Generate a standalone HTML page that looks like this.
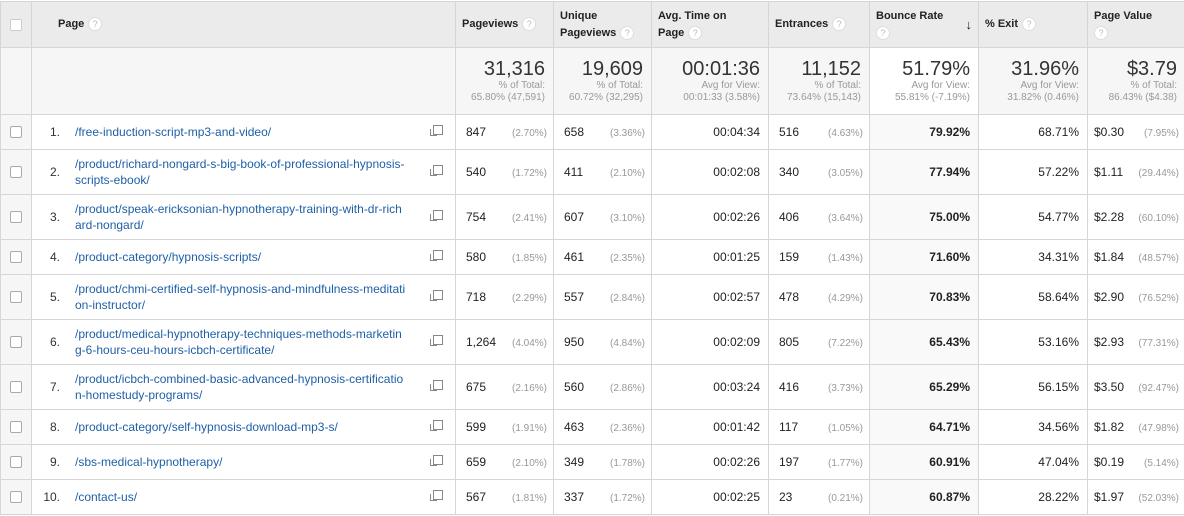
<!DOCTYPE html>
<html><head><meta charset="utf-8">
<style>
body{margin:0;width:1184px;height:516px;overflow:hidden;background:#fff;font-family:"Liberation Sans",Arial,sans-serif;color:#222}
table{border-collapse:collapse;table-layout:fixed;position:absolute;left:0;top:1px;width:1185px}
td,th{border:1px solid #d6d6d6;padding:0;vertical-align:middle}
th{background:#ebebeb;font-size:11px;font-weight:bold;text-align:left;padding:0 6px;height:45px;color:#222;line-height:17px}
.q{display:inline-block;width:12px;height:12px;border-radius:50%;background:#fff;border:1px solid #ddd;color:#bbb;font-size:9px;line-height:12px;text-align:center;font-weight:normal;vertical-align:middle;margin-left:4px}
.sum td{background:#f6f6f6;height:66px;text-align:right;padding-right:8px}
.sum .big{font-size:20px;color:#333;line-height:22px}
.sum .sub{font-size:10px;color:#999;line-height:12px}
.sum td.hl{background:#fff}
.r td{font-size:12px}
.r td.cb{background:#f6f6f6}
.box{display:block;margin:0 auto;width:10px;height:10px;border:1px solid #aaa;border-radius:2px;background:#fff}
.num{display:inline-block;text-align:right;width:28px;margin-right:15px;color:#333}
.link{color:#1f5fa8}
.pc{font-size:10px;color:#999}
.v{display:flex;justify-content:space-between;align-items:baseline;padding:0 6px 0 10px}
.rt{text-align:right;padding-right:8px}
.hl2{background:#f9f9f9;font-weight:bold;text-align:right;padding-right:8px}
.ext{position:absolute;right:12px;top:50%;margin-top:-7px;width:8px;height:8px;border:1px solid #888;background:#fff}
.ext:after{content:"";position:absolute;left:-4px;top:3px;width:6px;height:6px;border:1px solid #888;border-top:none;border-right:none}
.pg{position:relative}
.pgi{display:flex;align-items:center}
.pgt{line-height:16px}
</style></head><body>
<table>
<colgroup><col style="width:31px"><col style="width:424px"><col style="width:98px"><col style="width:98px"><col style="width:117px"><col style="width:101px"><col style="width:109px"><col style="width:109px"><col style="width:98px"></colgroup>
<tr>
<th style="text-align:center"><span class="box" style="border-color:#ccc"></span></th>
<th style="padding-left:26px">Page<span class="q">?</span></th>
<th>Pageviews<span class="q">?</span></th>
<th>Unique<br>Pageviews<span class="q">?</span></th>
<th>Avg. Time on<br>Page<span class="q">?</span></th>
<th>Entrances<span class="q">?</span></th>
<th style="position:relative">Bounce Rate<span style="position:absolute;right:6px;top:14px;font-size:13px">↓</span><br><span class="q" style="margin-left:0">?</span></th>
<th>% Exit<span class="q">?</span></th>
<th>Page Value<br><span class="q" style="margin-left:0">?</span></th>
</tr>
<tr class="sum">
<td></td><td></td>
<td><div class="big">31,316</div><div class="sub">% of Total:<br>65.80% (47,591)</div></td>
<td><div class="big">19,609</div><div class="sub">% of Total:<br>60.72% (32,295)</div></td>
<td><div class="big">00:01:36</div><div class="sub">Avg for View:<br>00:01:33 (3.58%)</div></td>
<td><div class="big">11,152</div><div class="sub">% of Total:<br>73.64% (15,143)</div></td>
<td class="hl"><div class="big">51.79%</div><div class="sub">Avg for View:<br>55.81% (-7.19%)</div></td>
<td><div class="big">31.96%</div><div class="sub">Avg for View:<br>31.82% (0.46%)</div></td>
<td><div class="big">$3.79</div><div class="sub">% of Total:<br>86.43% ($4.38)</div></td>
</tr>
<tbody id="body"></tbody>
</table>
<script>
const pages=["/free-induction-script-mp3-and-video/","/product/richard-nongard-s-big-book-of-professional-hypnosis-<br>scripts-ebook/","/product/speak-ericksonian-hypnotherapy-training-with-dr-rich<br>ard-nongard/","/product-category/hypnosis-scripts/","/product/chmi-certified-self-hypnosis-and-mindfulness-meditati<br>on-instructor/","/product/medical-hypnotherapy-techniques-methods-marketin<br>g-6-hours-ceu-hours-icbch-certificate/","/product/icbch-combined-basic-advanced-hypnosis-certificatio<br>n-homestudy-programs/","/product-category/self-hypnosis-download-mp3-s/","/sbs-medical-hypnotherapy/","/contact-us/"];
const pageviews=["847","540","754","580","718","1,264","675","599","659","567"];
const pvPct=["2.70%","1.72%","2.41%","1.85%","2.29%","4.04%","2.16%","1.91%","2.10%","1.81%"];
const uniq=["658","411","607","461","557","950","560","463","349","337"];
const uqPct=["3.36%","2.10%","3.10%","2.35%","2.84%","4.84%","2.86%","2.36%","1.78%","1.72%"];
const avgTime=["00:04:34","00:02:08","00:02:26","00:01:25","00:02:57","00:02:09","00:03:24","00:01:42","00:02:26","00:02:25"];
const entr=["516","340","406","159","478","805","416","117","197","23"];
const enPct=["4.63%","3.05%","3.64%","1.43%","4.29%","7.22%","3.73%","1.05%","1.77%","0.21%"];
const bounce=["79.92%","77.94%","75.00%","71.60%","70.83%","65.43%","65.29%","64.71%","60.91%","60.87%"];
const exitP=["68.71%","57.22%","54.77%","34.31%","58.64%","53.16%","56.15%","34.56%","47.04%","28.22%"];
const value=["$0.30","$1.11","$2.28","$1.84","$2.90","$2.93","$3.50","$1.82","$0.19","$1.97"];
const valPct=["7.95%","29.44%","60.10%","48.57%","76.52%","77.31%","92.47%","47.98%","5.14%","52.03%"];
const tb=document.getElementById('body');
pages.forEach((p,i)=>{
const tr=document.createElement('tr');
tr.className='r';


tr.style.height=(p.includes('<br>')?45:35)+'px';
tr.innerHTML=
`<td class="cb"><span class="box"></span></td>`+
`<td class="pg"><div class="pgi"><span class="num">${i+1}.</span><span class="pgt link">${p}</span></div><span class="ext"></span></td>`+
`<td><div class="v"><span>${pageviews[i]}</span><span class="pc">(${pvPct[i]})</span></div></td>`+
`<td><div class="v"><span>${uniq[i]}</span><span class="pc">(${uqPct[i]})</span></div></td>`+
`<td class="rt">${avgTime[i]}</td>`+
`<td><div class="v"><span>${entr[i]}</span><span class="pc">(${enPct[i]})</span></div></td>`+
`<td class="hl2">${bounce[i]}</td>`+
`<td class="rt">${exitP[i]}</td>`+
`<td><div class="v" style="padding-left:6px"><span>${value[i]}</span><span class="pc">(${valPct[i]})</span></div></td>`;
tb.appendChild(tr);
});
</script>
</body></html>
